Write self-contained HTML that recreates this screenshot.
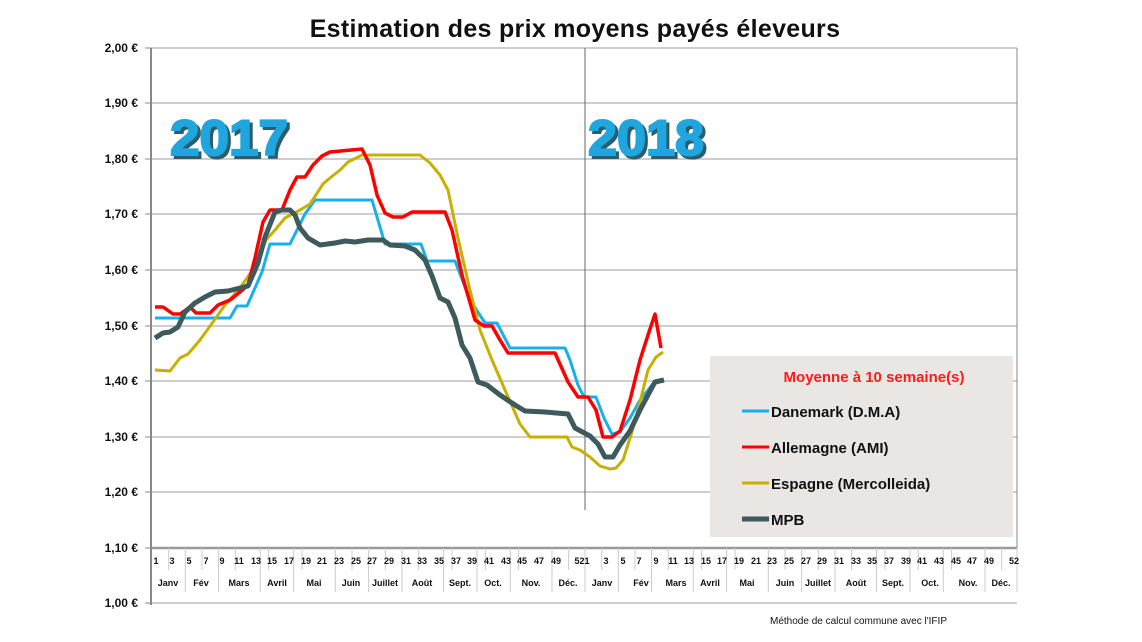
<!DOCTYPE html>
<html><head><meta charset="utf-8"><style>
html,body{margin:0;padding:0;background:#fff;}
svg{display:block;font-family:"Liberation Sans",sans-serif;}
</style></head><body>
<svg width="1142" height="642" viewBox="0 0 1142 642">
<rect width="1142" height="642" fill="#fff"/>
<text x="575" y="37" text-anchor="middle" font-size="25" font-weight="bold" fill="#111" letter-spacing="0.3">Estimation des prix moyens payés éleveurs</text>
<g stroke="#bdbdbd" stroke-width="1.5">
<line x1="151" y1="48" x2="1017" y2="48"/>
<line x1="151" y1="103" x2="1017" y2="103"/>
<line x1="151" y1="159" x2="1017" y2="159"/>
<line x1="151" y1="214" x2="1017" y2="214"/>
<line x1="151" y1="270" x2="1017" y2="270"/>
<line x1="151" y1="326" x2="1017" y2="326"/>
<line x1="151" y1="381" x2="1017" y2="381"/>
<line x1="151" y1="437" x2="1017" y2="437"/>
<line x1="151" y1="492" x2="1017" y2="492"/>
<line x1="151" y1="603" x2="1017" y2="603"/>
</g>
<line x1="1017" y1="48" x2="1017" y2="548" stroke="#888" stroke-width="1"/>
<line x1="151" y1="548" x2="1017" y2="548" stroke="#999" stroke-width="2.5"/>
<line x1="151" y1="48" x2="151" y2="605" stroke="#888" stroke-width="2"/>
<line x1="585" y1="48" x2="585" y2="510" stroke="#666" stroke-width="1"/>
<g stroke="#888" stroke-width="1">
<line x1="145" y1="48" x2="151" y2="48"/><line x1="145" y1="103" x2="151" y2="103"/><line x1="145" y1="159" x2="151" y2="159"/><line x1="145" y1="214" x2="151" y2="214"/><line x1="145" y1="270" x2="151" y2="270"/><line x1="145" y1="326" x2="151" y2="326"/><line x1="145" y1="381" x2="151" y2="381"/><line x1="145" y1="437" x2="151" y2="437"/><line x1="145" y1="492" x2="151" y2="492"/><line x1="145" y1="548" x2="151" y2="548"/><line x1="145" y1="603" x2="151" y2="603"/>
</g>
<g font-size="12" font-weight="bold" text-anchor="end" fill="#111">
<text x="138" y="52">2,00 €</text><text x="138" y="107">1,90 €</text><text x="138" y="163">1,80 €</text><text x="138" y="218">1,70 €</text><text x="138" y="274">1,60 €</text><text x="138" y="330">1,50 €</text><text x="138" y="385">1,40 €</text><text x="138" y="441">1,30 €</text><text x="138" y="496">1,20 €</text><text x="138" y="552">1,10 €</text><text x="138" y="607">1,00 €</text>
</g>
<g stroke="#ccc" stroke-width="1">
<path d="M168.7 548V570M185.3 548V592M202 548V570M218.6 548V592M235.3 548V570M260.3 548V592M268.6 548V570M293.6 548V592M302 548V570M335.3 548V592M352 548V570M368.6 548V592M385.3 548V570M402 548V592M418.6 548V570M443.6 548V592M452 548V570M477 548V592M485.3 548V570M510.3 548V592M518.6 548V570M552 548V592M568.6 548V570M585 548V592M601.7 548V570M618.3 548V592M635 548V570M651.6 548V592M668.3 548V570M693.3 548V592M701.6 548V570M726.6 548V592M735 548V570M768.3 548V592M785 548V570M801.6 548V592M818.3 548V570M835 548V592M851.6 548V570M876.6 548V592M885 548V570M910 548V592M918.3 548V570M943.3 548V592M951.6 548V570M985 548V592M1001.6 548V570M1017 548V592"/>
</g>
<g font-size="9" font-weight="bold" fill="#111" text-anchor="middle">
<text x="156" y="564">1</text><text x="172" y="564">3</text><text x="189" y="564">5</text><text x="206" y="564">7</text><text x="222" y="564">9</text><text x="239" y="564">11</text><text x="256" y="564">13</text><text x="272" y="564">15</text><text x="289" y="564">17</text><text x="306" y="564">19</text><text x="322" y="564">21</text><text x="339" y="564">23</text><text x="356" y="564">25</text><text x="372" y="564">27</text><text x="389" y="564">29</text><text x="406" y="564">31</text><text x="422" y="564">33</text><text x="439" y="564">35</text><text x="456" y="564">37</text><text x="472" y="564">39</text><text x="489" y="564">41</text><text x="506" y="564">43</text><text x="522" y="564">45</text><text x="539" y="564">47</text><text x="556" y="564">49</text><text x="582" y="564">521</text>
<text x="606" y="564">3</text><text x="623" y="564">5</text><text x="639" y="564">7</text><text x="656" y="564">9</text><text x="673" y="564">11</text><text x="689" y="564">13</text><text x="706" y="564">15</text><text x="722" y="564">17</text><text x="739" y="564">19</text><text x="756" y="564">21</text><text x="772" y="564">23</text><text x="789" y="564">25</text><text x="806" y="564">27</text><text x="822" y="564">29</text><text x="839" y="564">31</text><text x="856" y="564">33</text><text x="872" y="564">35</text><text x="889" y="564">37</text><text x="906" y="564">39</text><text x="922" y="564">41</text><text x="939" y="564">43</text><text x="956" y="564">45</text><text x="972" y="564">47</text><text x="989" y="564">49</text><text x="1014" y="564">52</text>
<text x="168" y="586">Janv</text><text x="201" y="586">Fév</text><text x="239" y="586">Mars</text><text x="277" y="586">Avril</text><text x="314" y="586">Mai</text><text x="351" y="586">Juin</text><text x="385" y="586">Juillet</text><text x="422" y="586">Août</text><text x="460" y="586">Sept.</text><text x="493" y="586">Oct.</text><text x="531" y="586">Nov.</text><text x="568" y="586">Déc.</text>
<text x="602" y="586">Janv</text><text x="641" y="586">Fév</text><text x="676" y="586">Mars</text><text x="710" y="586">Avril</text><text x="747" y="586">Mai</text><text x="785" y="586">Juin</text><text x="818" y="586">Juillet</text><text x="856" y="586">Août</text><text x="893" y="586">Sept.</text><text x="930" y="586">Oct.</text><text x="968" y="586">Nov.</text><text x="1001" y="586">Déc.</text>
</g>
<g font-size="50" font-weight="bold">
<text x="173" y="158" fill="#2c5d6b" textLength="118" lengthAdjust="spacingAndGlyphs" stroke="#2c5d6b" stroke-width="2">2017</text>
<text x="170" y="155" fill="#20a6de" textLength="118" lengthAdjust="spacingAndGlyphs" stroke="#20a6de" stroke-width="2">2017</text>
<text x="591" y="158" fill="#2c5d6b" textLength="116" lengthAdjust="spacingAndGlyphs" stroke="#2c5d6b" stroke-width="2">2018</text>
<text x="588" y="155" fill="#20a6de" textLength="116" lengthAdjust="spacingAndGlyphs" stroke="#20a6de" stroke-width="2">2018</text>
</g>
<g fill="none" stroke-linejoin="round">
<polyline stroke="#18b0ec" stroke-width="3" points="155,318 230,318 237,306 247,306 262,272 270,244 290,244 305,214 315,200 372,200 385,244 421,244 427,261 455,261 470,300 485,323 497,323 510,348 565,348 570,360 578,385 584,397 596,397 604,418 612,434 620,432 630,418 640,400 648,390 655,381"/>
<polyline stroke="#c8b000" stroke-width="3" points="155,370 170,371 180,358 188,354 200,340 213,322 225,305 240,288 258,262 266,240 275,230 285,218 300,210 310,204 323,184 330,178 340,170 348,162 362,155 420,155 430,163 440,175 448,190 458,238 470,290 480,330 492,360 505,390 520,424 530,437 545,437 567,437 572,447 580,450 590,457 600,466 610,469 616,468 623,460 632,432 640,402 648,370 656,357 663,352"/>
<polyline stroke="#ff0000" stroke-width="3.5" points="155,307 163,307 173,314 180,314 190,307 196,313 210,313 218,305 230,300 240,292 248,285 255,258 263,222 270,210 282,210 290,190 297,177 305,177 313,165 322,156 330,152 362,149 370,165 377,195 385,213 393,217 403,217 412,212 445,212 452,230 462,275 475,320 484,326 492,326 500,340 508,353 555,353 568,382 578,397 588,397 596,410 603,437 612,437 620,431 630,400 640,360 648,335 655,314 661,348"/>
<polyline stroke="#3e5a5c" stroke-width="5" points="155,338 163,333 170,332 178,327 185,312 195,303 205,297 215,292 228,291 240,288 248,286 258,263 265,237 275,212 282,210 290,210 295,215 300,228 308,238 320,245 335,243 345,241 355,242 368,240 383,240 390,245 405,246 415,250 425,260 432,276 440,298 448,302 455,318 462,345 470,358 478,382 487,385 500,395 515,405 525,411 545,412 568,414 575,428 590,436 598,444 605,457 613,457 620,445 630,431 640,410 648,395 655,382 664,380"/>
</g>
<rect x="710" y="356" width="303" height="181" fill="#e9e6e3"/>
<text x="874" y="382" text-anchor="middle" font-size="15" font-weight="bold" fill="#ff1a1a">Moyenne à  10 semaine(s)</text>
<g stroke-width="3"><line x1="742" y1="411" x2="769" y2="411" stroke="#18b0ec"/><line x1="742" y1="447" x2="769" y2="447" stroke="#ff0000"/><line x1="742" y1="483" x2="769" y2="483" stroke="#c8b000"/><line x1="742" y1="519" x2="769" y2="519" stroke="#3e5a5c" stroke-width="5"/></g>
<g font-size="15" font-weight="bold" fill="#111">
<text x="771" y="417">Danemark (D.M.A)</text><text x="771" y="453">Allemagne (AMI)</text><text x="771" y="489">Espagne (Mercolleida)</text><text x="771" y="525">MPB</text>
</g>
<text x="770" y="624" font-size="10" fill="#111">Méthode de calcul commune avec l'IFIP</text>
</svg>
</body></html>
